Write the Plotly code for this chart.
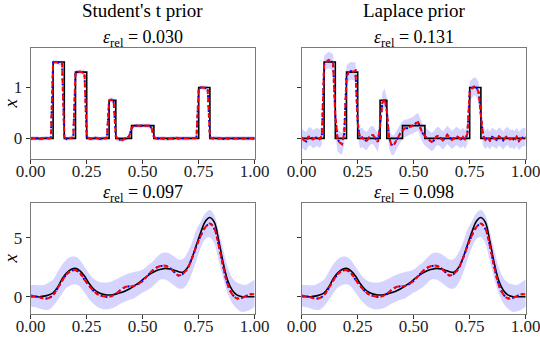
import plotly.graph_objects as go

# ---- top row: piecewise-constant signal, grid step 0.01 ----
x_top = [i / 100 for i in range(101)]

truth_top_x = [0.0, 0.10, 0.15, 0.20, 0.25, 0.35, 0.38, 0.45, 0.55, 0.75, 0.80, 1.0]
truth_top_y = [0.0, 1.5, 0.0, 1.3, 0.0, 0.75, 0.0, 0.25, 0.0, 1.0, 0.0, 0.0]

# Student's t prior (top left)
mean_tl = [0.00, 0.00, 0.01, 0.00, -0.01, 0.00, 0.00, 0.01, 0.00, 0.01,
           1.49, 1.50, 1.49, 1.48, 1.47, 0.03, -0.01, 0.00, 0.01, 0.02,
           1.29, 1.30, 1.31, 1.30, 1.29, 0.03, 0.00, -0.01, 0.00, 0.01,
           0.00, -0.01, 0.00, 0.00, 0.01, 0.74, 0.76, 0.74, 0.04, -0.02,
           -0.03, -0.03, -0.01, 0.00, 0.05, 0.20, 0.25, 0.25, 0.25, 0.26,
           0.25, 0.25, 0.25, 0.25, 0.20, 0.03, 0.00, 0.00, 0.01, 0.00,
           0.00, -0.01, 0.00, 0.00, 0.00, 0.01, 0.00, 0.00, 0.00, 0.00,
           0.00, 0.01, 0.00, 0.00, 0.01, 0.98, 1.00, 1.00, 0.99, 0.98,
           0.03, 0.00, 0.01, 0.00, 0.00, 0.00, -0.01, 0.00, 0.00, 0.01,
           0.00, 0.00, 0.00, 0.01, 0.00, 0.00, 0.00, 0.00, 0.01, 0.00,
           0.00]
lower_tl = [-0.04, -0.04, -0.03, -0.04, -0.05, -0.04, -0.04, -0.03, -0.04, -0.04,
            1.43, 1.46, 1.45, 1.44, 1.41, -0.03, -0.05, -0.04, -0.03, -0.04,
            1.23, 1.26, 1.27, 1.26, 1.23, -0.03, -0.04, -0.05, -0.04, -0.03,
            -0.04, -0.05, -0.04, -0.04, -0.04, 0.68, 0.71, 0.68, -0.03, -0.06,
            -0.07, -0.07, -0.05, -0.04, -0.01, 0.14, 0.21, 0.21, 0.21, 0.22,
            0.21, 0.21, 0.21, 0.21, 0.14, -0.03, -0.04, -0.04, -0.03, -0.04,
            -0.04, -0.05, -0.04, -0.04, -0.04, -0.03, -0.04, -0.04, -0.04, -0.04,
            -0.04, -0.03, -0.04, -0.04, -0.04, 0.92, 0.96, 0.96, 0.95, 0.92,
            -0.03, -0.04, -0.03, -0.04, -0.04, -0.04, -0.05, -0.04, -0.04, -0.03,
            -0.04, -0.04, -0.04, -0.03, -0.04, -0.04, -0.04, -0.04, -0.03, -0.04,
            -0.04]
upper_tl = [0.04, 0.04, 0.05, 0.04, 0.03, 0.04, 0.04, 0.05, 0.04, 0.06,
            1.55, 1.54, 1.53, 1.52, 1.53, 0.09, 0.03, 0.04, 0.05, 0.08,
            1.35, 1.34, 1.35, 1.34, 1.35, 0.09, 0.04, 0.03, 0.04, 0.05,
            0.04, 0.03, 0.04, 0.04, 0.06, 0.80, 0.81, 0.80, 0.10, 0.02,
            0.01, 0.01, 0.03, 0.04, 0.11, 0.26, 0.29, 0.29, 0.29, 0.30,
            0.29, 0.29, 0.29, 0.29, 0.26, 0.09, 0.04, 0.04, 0.05, 0.04,
            0.04, 0.03, 0.04, 0.04, 0.04, 0.05, 0.04, 0.04, 0.04, 0.04,
            0.04, 0.05, 0.04, 0.04, 0.06, 1.04, 1.04, 1.04, 1.03, 1.04,
            0.09, 0.04, 0.05, 0.04, 0.04, 0.04, 0.03, 0.04, 0.04, 0.05,
            0.04, 0.04, 0.04, 0.05, 0.04, 0.04, 0.04, 0.04, 0.05, 0.04,
            0.04]

# Laplace prior (top right)
mean_tr = [0.02, -0.04, -0.06, 0.03, 0.04, -0.02, 0.01, 0.03, -0.01, 0.05,
           1.45, 1.50, 1.54, 1.52, 1.48, 0.45, -0.02, -0.08, -0.11, 0.10,
           1.22, 1.30, 1.32, 1.31, 1.33, 0.30, 0.00, 0.02, -0.03, -0.05,
           0.02, 0.07, 0.06, -0.02, -0.07, 0.25, 0.70, 0.78, 0.55, 0.02,
           -0.12, -0.14, -0.05, 0.02, 0.10, 0.15, 0.20, 0.20, 0.22, 0.25,
           0.26, 0.30, 0.32, 0.20, 0.10, 0.04, 0.00, -0.03, -0.07, -0.04,
           0.03, 0.05, 0.00, -0.04, 0.01, 0.07, 0.02, -0.03, 0.00, 0.05,
           0.02, -0.02, 0.03, -0.03, 0.10, 0.92, 0.98, 1.02, 1.00, 0.90,
           0.45, 0.05, -0.03, 0.02, -0.04, 0.03, 0.00, -0.03, 0.04, 0.01,
           -0.04, 0.02, 0.05, -0.02, 0.00, -0.04, 0.03, -0.05, 0.00, 0.03,
           0.02]
lower_tr = [-0.18, -0.22, -0.24, -0.15, -0.14, -0.20, -0.17, -0.15, -0.19, -0.13,
            1.25, 1.35, 1.38, 1.36, 1.30, 0.10, -0.25, -0.30, -0.32, -0.12,
            1.00, 1.12, 1.15, 1.14, 1.15, 0.05, -0.20, -0.17, -0.21, -0.23,
            -0.16, -0.11, -0.12, -0.20, -0.26, 0.02, 0.52, 0.60, 0.30, -0.18,
            -0.32, -0.33, -0.24, -0.16, -0.08, -0.02, 0.03, 0.04, 0.06, 0.09,
            0.10, 0.13, 0.15, 0.02, -0.08, -0.14, -0.18, -0.21, -0.25, -0.22,
            -0.15, -0.13, -0.18, -0.22, -0.17, -0.11, -0.16, -0.21, -0.18, -0.13,
            -0.16, -0.20, -0.15, -0.21, -0.10, 0.70, 0.80, 0.85, 0.82, 0.70,
            0.15, -0.15, -0.21, -0.16, -0.22, -0.15, -0.18, -0.21, -0.14, -0.17,
            -0.22, -0.16, -0.13, -0.20, -0.18, -0.22, -0.15, -0.23, -0.18, -0.15,
            -0.16]
upper_tr = [0.20, 0.15, 0.13, 0.21, 0.22, 0.16, 0.19, 0.21, 0.17, 0.25,
            1.62, 1.66, 1.70, 1.68, 1.65, 0.75, 0.22, 0.14, 0.10, 0.35,
            1.42, 1.48, 1.50, 1.49, 1.50, 0.55, 0.20, 0.21, 0.15, 0.13,
            0.20, 0.25, 0.24, 0.16, 0.12, 0.50, 0.90, 0.98, 0.80, 0.22,
            0.08, 0.05, 0.13, 0.20, 0.28, 0.33, 0.37, 0.37, 0.39, 0.42,
            0.43, 0.48, 0.50, 0.38, 0.28, 0.22, 0.18, 0.15, 0.11, 0.14,
            0.21, 0.23, 0.18, 0.14, 0.19, 0.25, 0.20, 0.15, 0.18, 0.23,
            0.20, 0.16, 0.21, 0.15, 0.30, 1.12, 1.16, 1.20, 1.18, 1.10,
            0.75, 0.23, 0.15, 0.20, 0.14, 0.21, 0.18, 0.15, 0.22, 0.19,
            0.14, 0.20, 0.23, 0.16, 0.18, 0.14, 0.21, 0.13, 0.18, 0.21,
            0.20]

# ---- bottom row: smooth signal, grid step 0.02 ----
x_bot = [i / 50 for i in range(51)]

truth_bot = [0.00, 0.00, 0.00, 0.05, 0.15, 0.33, 0.80, 1.50, 2.00, 2.30,
             2.40, 2.20, 1.75, 1.15, 0.68, 0.38, 0.22, 0.15, 0.15, 0.22,
             0.33, 0.47, 0.66, 0.88, 1.15, 1.45, 1.75, 2.00, 2.20, 2.32,
             2.40, 2.36, 2.25, 2.12, 2.08, 2.45, 3.30, 4.40, 5.50, 6.40,
             6.72, 6.30, 4.70, 2.82, 1.35, 0.55, 0.15, 0.02, 0.00, 0.00,
             0.00]
mean_bot = [0.08, 0.05, -0.05, -0.15, -0.12, 0.15, 0.70, 1.35, 1.90, 2.20,
            2.25, 2.00, 1.45, 0.95, 0.50, 0.20, 0.05, -0.02, 0.05, 0.25,
            0.55, 0.80, 0.88, 0.92, 1.08, 1.35, 1.75, 2.15, 2.45, 2.60,
            2.63, 2.45, 2.10, 1.80, 1.95, 2.40, 3.25, 4.30, 5.20, 5.90,
            6.20, 5.75, 4.30, 2.50, 1.00, 0.20, -0.14, -0.12, 0.05, 0.20,
            0.20]
lower_bot = [-0.80, -0.90, -1.00, -1.10, -1.10, -0.80, -0.30, 0.25, 0.75, 1.00,
             1.05, 0.85, 0.35, -0.20, -0.60, -0.90, -1.05, -1.07, -1.00, -0.85,
             -0.60, -0.42, -0.25, -0.15, 0.10, 0.35, 0.55, 0.80, 1.15, 1.45,
             1.45, 1.25, 0.95, 0.70, 0.70, 1.15, 2.00, 3.10, 4.20, 4.90,
             5.05, 4.50, 3.00, 1.50, 0.25, -0.55, -1.00, -1.27, -1.25, -1.10,
             -0.85]
upper_bot = [1.00, 1.00, 0.98, 1.00, 1.20, 1.45, 2.10, 2.70, 3.15, 3.38,
             3.38, 3.10, 2.55, 2.00, 1.55, 1.30, 1.20, 1.20, 1.30, 1.45,
             1.65, 1.84, 1.98, 2.10, 2.15, 2.30, 2.60, 2.90, 3.30, 3.65,
             3.75, 3.67, 3.40, 3.15, 3.20, 3.75, 4.60, 5.70, 6.40, 7.10,
             7.35, 6.90, 5.50, 3.95, 2.50, 1.60, 1.20, 1.05, 1.00, 1.20,
             1.45]

col_titles = ["Student's t prior", "Laplace prior"]
err_labels = ["0.030", "0.131", "0.097", "0.098"]
x_ticks = [0, 0.25, 0.5, 0.75, 1.0]
x_ticktext = ["0.00", "0.25", "0.50", "0.75", "1.00"]

FONT = "Liberation Serif, DejaVu Serif, serif"
BAND = "rgba(0,0,255,0.17)"

W, H = 540, 341
# panel boxes in pixels: (left, right) and (top, bottom)
cols_px = [(30.7, 254.7), (301.7, 525.7)]
rows_px = [(47.7, 159.3), (202.7, 314.3)]

fig = go.Figure()


def add_panel(k, x, mean, lower, upper, tx, ty, tshape, smooth):
    xa = "x" if k == 1 else f"x{k}"
    ya = "y" if k == 1 else f"y{k}"
    shape = "spline" if smooth else "linear"
    fig.add_trace(go.Scatter(x=x, y=lower, mode="lines", line=dict(width=0, shape=shape),
                             xaxis=xa, yaxis=ya, showlegend=False, hoverinfo="skip"))
    fig.add_trace(go.Scatter(x=x, y=upper, mode="lines", line=dict(width=0, shape=shape),
                             fill="tonexty", fillcolor=BAND,
                             xaxis=xa, yaxis=ya, showlegend=False, hoverinfo="skip"))
    fig.add_trace(go.Scatter(x=tx, y=ty, mode="lines",
                             line=dict(color="black", width=1.6, shape=tshape),
                             xaxis=xa, yaxis=ya, showlegend=False))
    fig.add_trace(go.Scatter(x=x, y=mean, mode="lines",
                             line=dict(color="blue", width=2, dash="2px,3px", shape=shape),
                             xaxis=xa, yaxis=ya, showlegend=False))
    fig.add_trace(go.Scatter(x=x, y=mean, mode="lines",
                             line=dict(color="red", width=2, dash="5px,3px", shape=shape),
                             xaxis=xa, yaxis=ya, showlegend=False))


add_panel(1, x_top, mean_tl, lower_tl, upper_tl, truth_top_x, truth_top_y, "hv", False)
add_panel(2, x_top, mean_tr, lower_tr, upper_tr, truth_top_x, truth_top_y, "hv", False)
add_panel(3, x_bot, mean_bot, lower_bot, upper_bot, x_bot, truth_bot, "spline", True)
add_panel(4, x_bot, mean_bot, lower_bot, upper_bot, x_bot, truth_bot, "spline", True)

layout = dict(width=W, height=H, margin=dict(l=0, r=0, t=0, b=0),
              paper_bgcolor="white", plot_bgcolor="white", template="none",
              font=dict(family=FONT, size=17, color="black"), showlegend=False)

axis_common = dict(showgrid=False, zeroline=False, showline=True, mirror=True,
                   automargin=False, linecolor="#7a7a7a", linewidth=1,
                   ticks="outside", ticklen=4, tickwidth=1, tickcolor="#333",
                   ticklabeloverflow="allow",
                   tickfont=dict(family=FONT, size=17, color="#222"))

annotations = []
for k in range(1, 5):
    r, c = (k - 1) // 2, (k - 1) % 2
    (l, rr), (t, b) = cols_px[c], rows_px[r]
    xname = "xaxis" if k == 1 else f"xaxis{k}"
    yname = "yaxis" if k == 1 else f"yaxis{k}"
    yref = "y" if k == 1 else f"y{k}"
    layout[xname] = dict(axis_common, domain=[l / W, rr / W], range=[0, 1],
                         tickvals=x_ticks, ticktext=x_ticktext, anchor=yref,
                         ticklabelstandoff=-8)
    if r == 0:
        yr, yt = [-0.41, 1.78], [0, 1]
    else:
        yr, yt = [-1.49, 7.97], [0, 5]
    layout[yname] = dict(axis_common, domain=[1 - b / H, 1 - t / H], range=yr,
                         tickvals=yt, showticklabels=(c == 0),
                         anchor="x" if k == 1 else f"x{k}")
    annotations.append(dict(text=f"<i>ε</i><sub>rel</sub> = {err_labels[k - 1]}",
                            xref="paper", yref="paper", x=(l + rr) / 2 / W,
                            y=1 - (t + 4) / H, xanchor="center", yanchor="bottom",
                            showarrow=False, font=dict(family=FONT, size=18)))
    if c == 0:
        annotations.append(dict(text="<i>x</i>", xref="paper", yref="paper",
                                x=10 / W, y=1 - (t + b) / 2 / H, textangle=-90,
                                xanchor="center", yanchor="middle", showarrow=False,
                                font=dict(family=FONT, size=19)))

for c, name in enumerate(col_titles):
    l, rr = cols_px[c]
    annotations.append(dict(text=name, xref="paper", yref="paper",
                            x=(l + rr) / 2 / W, y=1 - 11 / H,
                            xanchor="center", yanchor="middle", showarrow=False,
                            font=dict(family=FONT, size=19)))

layout["annotations"] = annotations
fig.update_layout(**layout)
fig.write_html("out.html", config={"displayModeBar": False},
               post_script="document.body.style.margin='0';")
